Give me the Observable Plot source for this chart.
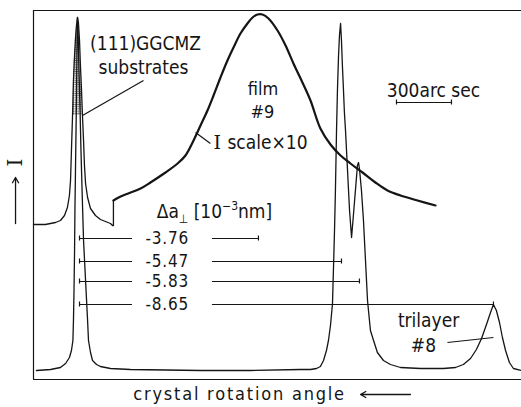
<!DOCTYPE html>
<html>
<head>
<meta charset="utf-8">
<script src="https://cdn.jsdelivr.net/npm/d3@7"></script>
<script src="https://cdn.jsdelivr.net/npm/@observablehq/plot@0.6"></script>
<style>
  html, body { margin: 0; padding: 0; background: #fff; }
  #chart svg { display: block; }
</style>
</head>
<body>
<div id="chart"></div>
<script>
// x: crystal rotation angle, arc sec relative to substrate peak; y: intensity (arb. units)
const angleDomain = [-240, 2422];
const intensityDomain = [0, 369];

// film #9 sample: substrate region (thin line, ends with the scale step)
const substrate9 = [
  [-240,155],[-175,155],[-120,157],[-93,159],[-71,164],[-55,172],[-44,184],[-38,199],
  [-33,229],[-27,264],[-22,299],[-16,324],[-11,341],[-5,355],[0,362],[5,357],[11,339],
  [16,314],[22,289],[27,264],[33,239],[38,214],[44,196],[55,182],[71,171],[98,164],
  [125,160],[180,156],[191,154],[196,154],[196,179]
];
// film #9 peak (I scale x10)
const film9 = [
  [196,179],[224,182],[262,185],[344,191],[398,197],[480,207],[546,216],[589,224],
  [633,239],[671,254],[709,269],[742,284],[780,302],[818,319],[851,332],[889,346],
  [927,356],[955,362],[982,365],[1009,365],[1042,361],[1091,349],[1135,334],[1178,316],
  [1227,297],[1271,279],[1325,251],[1380,235],[1435,224],[1489,216],[1555,207],
  [1625,197],[1691,189],[1762,184],[1855,179],[1953,174]
];
// trilayer #8
const trilayer8 = [
  [-224,9],[-147,10],[-93,12],[-65,16],[-44,22],[-33,29],[-25,39],[-22,59],[-19,89],
  [-16,129],[-14,169],[-11,209],[-8,249],[-5,289],[-3,329],[0,362],[3,349],[8,309],
  [14,269],[19,229],[25,189],[33,139],[44,99],[55,59],[60,39],[71,27],[82,19],[104,15],
  [125,13],[180,11],[289,10],[671,9],[944,9],[1216,10],[1271,10],[1304,11],[1325,13],
  [1342,19],[1358,29],[1369,39],[1380,54],[1391,76],[1396,109],[1402,149],[1407,189],
  [1413,249],[1418,289],[1424,324],[1429,344],[1435,356],[1440,339],[1445,314],
  [1451,289],[1456,267],[1462,249],[1473,209],[1484,169],[1495,142],[1505,164],
  [1516,189],[1527,214],[1533,217],[1538,211],[1549,189],[1560,159],[1571,119],
  [1582,79],[1598,49],[1615,39],[1636,27],[1669,19],[1707,15],[1762,12],[1871,11],
  [1996,11],[2062,12],[2105,15],[2144,21],[2176,30],[2204,41],[2231,55],[2253,67],
  [2269,75],[2285,69],[2302,57],[2318,42],[2335,29],[2356,17],[2378,11],[2422,9]
];

// lattice mismatch markers: label, level, end angle (start at substrate peak)
const deltaLabels = ["-3.76", "-5.47", "-5.83", "-8.65"];
const deltaLevels = [141, 118, 98, 75];
const deltaEnds = [987, 1440, 1538, 2269];
const deltaStart = 11;
const deltaGap = [300, 736];

const textLabels = [
  {x: 371, y: 336, text: "(111)GGCMZ", size: 19},
  {x: 360, y: 312, text: "substrates", size: 19},
  {x: 1012, y: 290, text: "film", size: 18},
  {x: 1009, y: 267, text: "#9", size: 18},
  {x: 1942, y: 289, text: "300arc sec", size: 19},
  {x: 747, y: 168, text: "Δa⊥ [10⁻³nm]", size: 19},
  {x: 1915, y: 59, text: "trilayer", size: 19},
  {x: 1887, y: 34, text: "#8", size: 19}
];
const leaders = [
  {x1: 360, y1: 299, x2: 27, y2: 264},
  {x1: 644, y1: 247, x2: 725, y2: 236},
  {x1: 2018, y1: 37, x2: 2269, y2: 42}
];
const scaleBar = {x1: 1740, x2: 2040, y: 277};

const toObj = a => a.map(([x, y]) => ({x, y}));
const sub = toObj(substrate9), film = toObj(film9), tri = toObj(trilayer8);
const peakFill = sub.filter(d => d.x >= -27 && d.x <= 27);

const deltas = deltaLabels.map((label, i) => ({label, y: deltaLevels[i], end: deltaEnds[i]}));
const segs = deltas.flatMap(d => [
  {x1: deltaStart, x2: deltaGap[0], y: d.y},
  {x1: deltaGap[1], x2: d.end, y: d.y}
]);
const ticks = deltas.flatMap(d => [{x: deltaStart, y: d.y}, {x: d.end, y: d.y}])
  .concat([{x: scaleBar.x1, y: scaleBar.y}, {x: scaleBar.x2, y: scaleBar.y}]);

const FONT = "DejaVu Sans Condensed, DejaVu Sans, sans-serif";
const ink = "#151515";

const plot = Plot.plot({
  width: 521, height: 407,
  marginLeft: 33, marginRight: 0, marginTop: 10, marginBottom: 28,
  x: {domain: angleDomain, axis: null},
  y: {domain: intensityDomain, axis: null},
  style: {fontFamily: FONT, background: "#fff"},
  marks: [
    Plot.ruleY([intensityDomain[0], intensityDomain[1]], {stroke: ink, strokeWidth: 1.2}),
    Plot.ruleX([angleDomain[0]], {stroke: ink, strokeWidth: 1.2}),
    Plot.areaY(peakFill, {x: "x", y1: 264, y2: "y", fill: "url(#dots)", curve: "linear"}),
    Plot.line(tri, {x: "x", y: "y", stroke: ink, strokeWidth: 1.3, curve: "linear"}),
    Plot.line(sub, {x: "x", y: "y", stroke: ink, strokeWidth: 1.3, curve: "linear"}),
    Plot.line(film, {x: "x", y: "y", stroke: ink, strokeWidth: 2.2, curve: "catmull-rom"}),
    Plot.ruleY(segs, {x1: "x1", x2: "x2", y: "y", stroke: ink, strokeWidth: 1.2}),
    Plot.ruleY([scaleBar], {x1: "x1", x2: "x2", y: "y", stroke: ink, strokeWidth: 1.2}),
    Plot.ruleX(ticks, {x: "x", y1: d => d.y - 2.5, y2: d => d.y + 2.5, stroke: ink, strokeWidth: 1.2}),
    Plot.link(leaders, {x1: "x1", y1: "y1", x2: "x2", y2: "y2", stroke: ink, strokeWidth: 1.2}),
    Plot.text(textLabels, {x: "x", y: "y", text: "text", fontSize: d => d.size, fill: ink}),
    Plot.text(deltas, {x: 371, y: "y", text: "label", textAnchor: "start", fontSize: 17, fill: ink, className: "dlab"}),
    Plot.text(["I"], {x: 742, y: 237, textAnchor: "start", fontSize: 19, fontFamily: "DejaVu Serif, serif", fill: ink}),
    Plot.text(["scale×10"], {x: 818, y: 237, textAnchor: "start", fontSize: 19, fill: ink}),
    // axis labels
    Plot.text(["crystal rotation angle"], {x: 884, y: -15, fontSize: 18, fill: ink, className: "xlab"}),
    Plot.arrow([{x1: 1816, x2: 1544, y: -15}], {x1: "x1", x2: "x2", y1: "y", y2: "y", stroke: ink, strokeWidth: 1.3, headLength: 7}),
    Plot.text(["I"], {x: -338, y: 217, rotate: -90, fontSize: 20, fontFamily: "DejaVu Serif, serif", fill: ink}),
    Plot.arrow([{x: -338, y1: 156, y2: 202}], {x1: "x", x2: "x", y1: "y1", y2: "y2", stroke: ink, strokeWidth: 1.3, headLength: 7})
  ]
});

// dot pattern for the overlapping substrate peaks
const ns = "http://www.w3.org/2000/svg";
const defs = document.createElementNS(ns, "defs");
defs.innerHTML = '<pattern id="dots" width="2.2" height="2.2" patternUnits="userSpaceOnUse"><rect width="2.2" height="2.2" fill="#fff"/><circle cx="1.1" cy="1.1" r="0.75" fill="#222"/></pattern>';
plot.insertBefore(defs, plot.firstChild);

// subscript / superscript for the Δa⊥ label
plot.querySelectorAll("text").forEach(t => {
  if (t.textContent.startsWith("Δa")) {
    t.innerHTML = 'Δa<tspan font-size="12" dy="5">⊥</tspan><tspan dy="-5"> [10</tspan><tspan font-size="12" dy="-8">−3</tspan><tspan dy="8">nm]</tspan>';
  }
});
plot.querySelectorAll(".xlab").forEach(g => g.setAttribute("letter-spacing", "1.8"));
plot.querySelectorAll(".dlab").forEach(g => g.setAttribute("letter-spacing", "0.8"));

document.getElementById("chart").appendChild(plot);
</script>
</body>
</html>
